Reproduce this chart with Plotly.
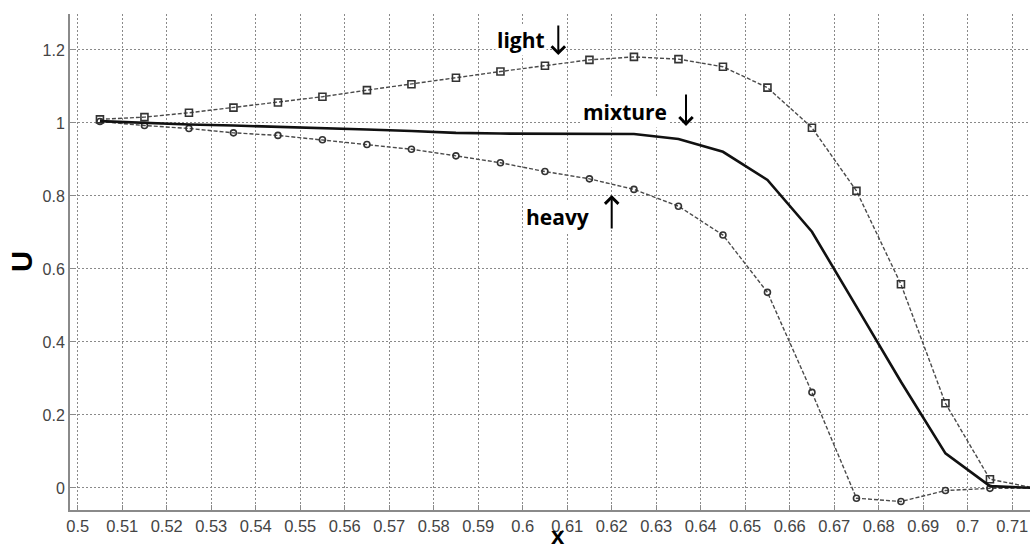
import plotly.graph_objects as go

x_pts = [0.505, 0.515, 0.525, 0.535, 0.545, 0.555, 0.565, 0.575, 0.585, 0.595, 0.605,
         0.615, 0.625, 0.635, 0.645, 0.655, 0.665, 0.675, 0.685, 0.695, 0.705, 0.715]
u_light = [1.010, 1.016, 1.028, 1.042, 1.056, 1.072, 1.090, 1.106, 1.124, 1.141, 1.157,
           1.173, 1.181, 1.175, 1.154, 1.097, 0.987, 0.814, 0.558, 0.232, 0.024, 0.000]
u_heavy = [1.004, 0.993, 0.985, 0.973, 0.966, 0.954, 0.941, 0.928, 0.910, 0.891, 0.867,
           0.847, 0.818, 0.772, 0.693, 0.536, 0.262, -0.028, -0.037, -0.007, -0.001, 0.000]
u_mixture = [1.005, 1.000, 0.996, 0.993, 0.990, 0.986, 0.982, 0.978, 0.973, 0.971, 0.970,
             0.970, 0.970, 0.956, 0.921, 0.844, 0.702, 0.497, 0.291, 0.095, 0.005, 0.000]

x_ticks = [round(0.50 + 0.01 * i, 2) for i in range(22)]
x_ticktext = ["0.5", "0.51", "0.52", "0.53", "0.54", "0.55", "0.56", "0.57", "0.58", "0.59", "0.6",
              "0.61", "0.62", "0.63", "0.64", "0.65", "0.66", "0.67", "0.68", "0.69", "0.7", "0.71"]
y_ticks = [0, 0.2, 0.4, 0.6, 0.8, 1.0, 1.2]
y_ticktext = ["0", "0.2", "0.4", "0.6", "0.8", "1", "1.2"]

fig = go.Figure()
fig.add_trace(go.Scatter(x=x_pts, y=u_light, mode="lines+markers", name="light",
                         line=dict(color="#4a4a4a", width=1.4, dash="4px,2px"),
                         marker=dict(symbol="square-open", size=7, color="#333333",
                                     line=dict(width=1.6, color="#333333"))))
fig.add_trace(go.Scatter(x=x_pts, y=u_heavy, mode="lines+markers", name="heavy",
                         line=dict(color="#4a4a4a", width=1.4, dash="4px,2px"),
                         marker=dict(symbol="circle-open", size=6, color="#333333",
                                     line=dict(width=1.6, color="#333333"))))
fig.add_trace(go.Scatter(x=x_pts, y=u_mixture, mode="lines", name="mixture",
                         line=dict(color="#111111", width=2.6)))

lab_font = dict(family="Open Sans", size=21, color="black")
ann = [
    dict(x=0.5996, y=1.227, text="<b>light</b>", showarrow=False, font=lab_font,
         xanchor="center", yanchor="middle", bgcolor="white"),
    dict(x=0.6080, y=1.186, ax=0, ay=-31, text="", showarrow=True, arrowhead=4,
         arrowsize=1.3, arrowwidth=2, arrowcolor="black"),
    dict(x=0.6230, y=1.030, text="<b>mixture</b>", showarrow=False, font=lab_font,
         xanchor="center", yanchor="middle", bgcolor="white"),
    dict(x=0.6367, y=0.992, ax=0, ay=-33, text="", showarrow=True, arrowhead=4,
         arrowsize=1.3, arrowwidth=2, arrowcolor="black"),
    dict(x=0.6079, y=0.743, text="<b>heavy</b>", showarrow=False, font=lab_font,
         xanchor="center", yanchor="middle", bgcolor="white"),
    dict(x=0.6200, y=0.8027, ax=0, ay=35, text="", showarrow=True, arrowhead=4,
         arrowsize=1.3, arrowwidth=2, arrowcolor="black"),
    dict(x=-0.050, y=0.5, xref="paper", yref="paper", text="<b>U</b>", showarrow=False,
         textangle=-90, font=dict(family="Liberation Sans", size=29, color="black"),
         xanchor="center", yanchor="middle"),
    dict(x=0.508, y=-0.0826, xref="paper", yref="paper", text="<b>x</b>", showarrow=False,
         font=dict(family="Liberation Sans", size=24, color="black"),
         xanchor="center", yanchor="bottom"),
]

fig.update_layout(
    width=1030, height=551,
    margin=dict(l=70, r=0, t=14, b=41),
    paper_bgcolor="white", plot_bgcolor="white",
    showlegend=False,
    annotations=ann,
    xaxis=dict(range=[0.49827, 0.71400], tickvals=x_ticks, ticktext=x_ticktext,
               showgrid=True, gridcolor="#8a8a8a", gridwidth=1, griddash="2px,2px",
               showline=True, linecolor="#8a8a8a", linewidth=2,
               ticks="inside", ticklen=5, tickcolor="#8a8a8a", tickwidth=1,
               zeroline=False,
               tickfont=dict(family="Liberation Sans", size=16.5, color="#444444")),
    yaxis=dict(range=[-0.0603, 1.2986], tickvals=y_ticks, ticktext=y_ticktext,
               showgrid=True, gridcolor="#8a8a8a", gridwidth=1, griddash="2px,2px",
               showline=True, linecolor="#8a8a8a", linewidth=2,
               ticks="inside", ticklen=5, tickcolor="#8a8a8a", tickwidth=1,
               zeroline=False,
               tickfont=dict(family="Liberation Sans", size=16, color="#444444")),
)

fig.write_html("out.html")
